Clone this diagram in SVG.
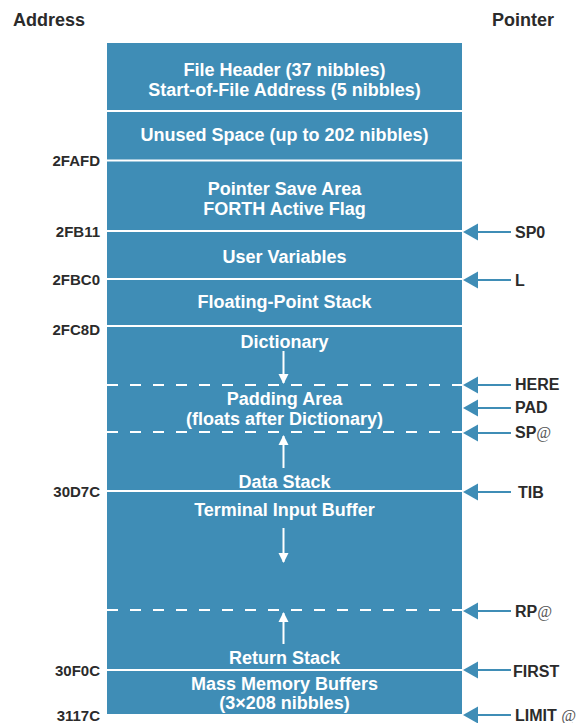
<svg xmlns="http://www.w3.org/2000/svg" width="576" height="723" viewBox="0 0 576 723">
<defs>
<style>
.hdr{font-family:"Liberation Sans",Arial,sans-serif;font-weight:bold;font-size:18px;fill:#2b2b2b}
.addr{font-family:"Liberation Sans",Arial,sans-serif;font-weight:bold;font-size:15px;fill:#2b2b2b;text-anchor:end}
.ptr{font-family:"Liberation Sans",Arial,sans-serif;font-weight:bold;font-size:16px;fill:#2b2b2b}
.at{font-family:"Liberation Serif",serif;font-style:italic;font-weight:normal;fill:#555}
.lbl{font-family:"Liberation Sans",Arial,sans-serif;font-weight:bold;font-size:18px;fill:#ffffff;text-anchor:middle}
.sep{stroke:#ffffff;stroke-width:2}
.dash{stroke:#ffffff;stroke-width:2;stroke-dasharray:11 12}
.warr{stroke:#ffffff;stroke-width:2;fill:none}
.pl{stroke:#3f8db6;stroke-width:2}
.ph{fill:#3f8db6}
</style>
<marker id="wh" viewBox="0 0 10 12" refX="9" refY="6" markerWidth="10" markerHeight="12" markerUnits="userSpaceOnUse" orient="auto">
<path d="M0,1 L10,6 L0,11 Z" fill="#ffffff"/>
</marker>
</defs>
<rect width="576" height="723" fill="#ffffff"/>
<text class="hdr" x="13" y="26">Address</text>
<text class="hdr" x="492" y="26">Pointer</text>

<g id="memory">
<rect x="107" y="43" width="355" height="671" fill="#3f8db6"/>
</g>

<g id="separators">
<line class="sep" x1="107" y1="111" x2="462" y2="111"/>
<line class="sep" x1="107" y1="160.5" x2="462" y2="160.5"/>
<line class="sep" x1="107" y1="231" x2="462" y2="231"/>
<line class="sep" x1="107" y1="279" x2="462" y2="279"/>
<line class="sep" x1="107" y1="326" x2="462" y2="326"/>
<line class="dash" x1="107" y1="385" x2="462" y2="385"/>
<line class="dash" x1="107" y1="432" x2="462" y2="432"/>
<line class="sep" x1="107" y1="491" x2="462" y2="491"/>
<line class="dash" x1="107" y1="610" x2="462" y2="610"/>
<line class="sep" x1="107" y1="670" x2="462" y2="670"/>
</g>

<g id="file-header"><text class="lbl" x="284.5" y="76">File Header (37 nibbles)</text><text class="lbl" x="284.5" y="96">Start-of-File Address (5 nibbles)</text></g>
<g id="unused"><text class="lbl" x="284.5" y="141">Unused Space (up to 202 nibbles)</text></g>
<g id="pointer-save"><text class="lbl" x="284.5" y="195">Pointer Save Area</text><text class="lbl" x="284.5" y="215">FORTH Active Flag</text></g>
<g id="user-vars"><text class="lbl" x="284.5" y="263">User Variables</text></g>
<g id="fp-stack"><text class="lbl" x="284.5" y="308">Floating-Point Stack</text></g>
<g id="dictionary"><text class="lbl" x="284.5" y="348">Dictionary</text></g>
<g id="padding"><text class="lbl" x="284.5" y="405">Padding Area</text><text class="lbl" x="284.5" y="425">(floats after Dictionary)</text></g>
<g id="data-stack"><text class="lbl" x="284.5" y="488">Data Stack</text></g>
<g id="tib"><text class="lbl" x="284.5" y="516">Terminal Input Buffer</text></g>
<g id="return-stack"><text class="lbl" x="284.5" y="664">Return Stack</text></g>
<g id="mass-memory"><text class="lbl" x="284.5" y="690">Mass Memory Buffers</text><text class="lbl" x="284.5" y="709">(3×208 nibbles)</text></g>

<g id="addresses">
<text class="addr" x="100" y="166">2FAFD</text>
<text class="addr" x="100" y="237">2FB11</text>
<text class="addr" x="100" y="285">2FBC0</text>
<text class="addr" x="100" y="335">2FC8D</text>
<text class="addr" x="100" y="497">30D7C</text>
<text class="addr" x="100" y="676">30F0C</text>
<text class="addr" x="100" y="721">3117C</text>
</g>

<g id="connectors">
<line class="warr" x1="283.5" y1="351" x2="283.5" y2="383" marker-end="url(#wh)"/>
<line class="warr" x1="283.5" y1="468" x2="283.5" y2="436" marker-end="url(#wh)"/>
<line class="warr" x1="283.5" y1="528" x2="283.5" y2="562" marker-end="url(#wh)"/>
<line class="warr" x1="283.5" y1="644" x2="283.5" y2="613" marker-end="url(#wh)"/>

<g id="p-sp0"><line class="pl" x1="476" y1="232" x2="511" y2="232"/><path class="ph" d="M463,232 L478,223.5 L478,240.5 Z"/></g>
<g id="p-l"><line class="pl" x1="476" y1="280" x2="511" y2="280"/><path class="ph" d="M463,280 L478,271.5 L478,288.5 Z"/></g>
<g id="p-here"><line class="pl" x1="476" y1="385" x2="511" y2="385"/><path class="ph" d="M463,385 L478,376.5 L478,393.5 Z"/></g>
<g id="p-pad"><line class="pl" x1="476" y1="408" x2="511" y2="408"/><path class="ph" d="M463,408 L478,399.5 L478,416.5 Z"/></g>
<g id="p-spat"><line class="pl" x1="476" y1="433" x2="511" y2="433"/><path class="ph" d="M463,433 L478,424.5 L478,441.5 Z"/></g>
<g id="p-tib"><line class="pl" x1="476" y1="492" x2="511" y2="492"/><path class="ph" d="M463,492 L478,483.5 L478,500.5 Z"/></g>
<g id="p-rpat"><line class="pl" x1="476" y1="611" x2="511" y2="611"/><path class="ph" d="M463,611 L478,602.5 L478,619.5 Z"/></g>
<g id="p-first"><line class="pl" x1="476" y1="670" x2="511" y2="670"/><path class="ph" d="M463,670 L478,661.5 L478,678.5 Z"/></g>
<g id="p-limit"><line class="pl" x1="476" y1="715" x2="511" y2="715"/><path class="ph" d="M463,715 L478,706.5 L478,723.5 Z"/></g>
</g>

<g id="pointers">
<text class="ptr" x="515" y="238">SP0</text>
<text class="ptr" x="515" y="286">L</text>
<text class="ptr" x="515" y="390">HERE</text>
<text class="ptr" x="515" y="413">PAD</text>
<text class="ptr" x="515" y="438">SP<tspan class="at">@</tspan></text>
<text class="ptr" x="518" y="498">TIB</text>
<text class="ptr" x="515" y="617">RP<tspan class="at">@</tspan></text>
<text class="ptr" x="513" y="677">FIRST</text>
<text class="ptr" x="515" y="721">LIMIT <tspan class="at">@</tspan></text>
</g>
</svg>
